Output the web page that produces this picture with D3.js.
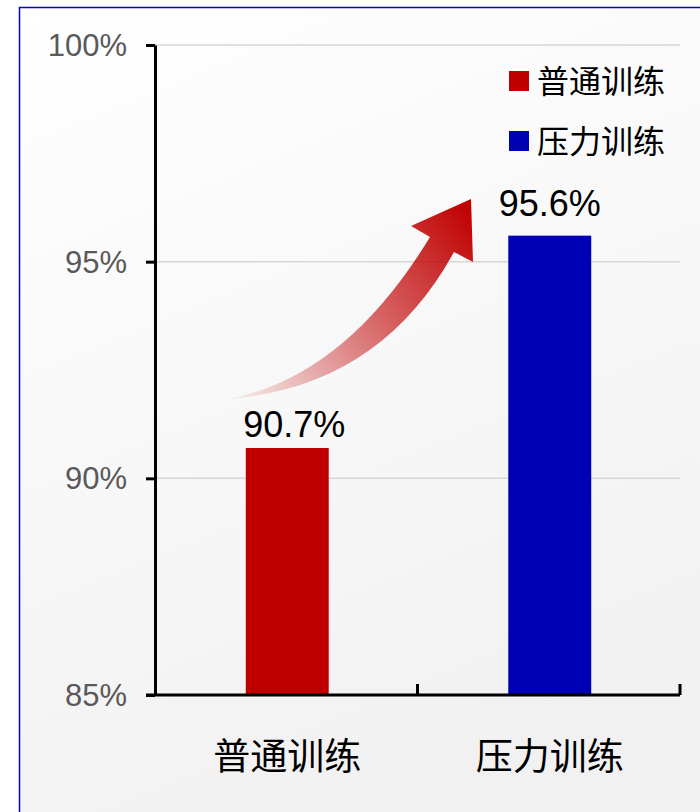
<!DOCTYPE html>
<html>
<head>
<meta charset="utf-8">
<script src="https://cdn.jsdelivr.net/npm/d3@7/dist/d3.min.js"></script>
<style>
  html, body { margin: 0; padding: 0; background: #ffffff; }
  svg { display: block; }
</style>
</head>
<body>
<svg id="chart" width="700" height="812"></svg>
<script>
// Training accuracy comparison
const categories = ["普通训练", "压力训练"];
const values = [90.7, 95.6];
const valueLabels = ["90.7%", "95.6%"];
const yTicks = [85, 90, 95, 100];
const yTickLabels = ["85%", "90%", "95%", "100%"];
const barColors = ["#C00000", "#0000B4"];

const W = 700, H = 812;
const svg = d3.select("#chart");
const defs = svg.append("defs");

// soft grey panel background
const bg = defs.append("linearGradient").attr("id", "bgGrad")
  .attr("x1", 0).attr("y1", 0).attr("x2", 0.35).attr("y2", 1);
bg.append("stop").attr("offset", 0).attr("stop-color", "#ffffff");
bg.append("stop").attr("offset", 1).attr("stop-color", "#f1f1f1");

svg.append("rect").attr("x", 19.5).attr("y", 7.5)
  .attr("width", W + 20).attr("height", H + 20)
  .attr("fill", "url(#bgGrad)")
  .attr("stroke", "#0000CC").attr("stroke-width", 1.5);

const plotLeft = 155, plotRight = 680, plotTop = 45, plotBottom = 695;

const x = d3.scaleBand().domain(categories).range([plotLeft, plotRight]).padding(0);
const y = d3.scaleLinear().domain([85, 100]).range([plotBottom, plotTop]);
const barW = x.bandwidth() * 0.316;

// horizontal gridlines
svg.append("g").selectAll("line")
  .data(yTicks.filter(t => t > 85))
  .join("line")
  .attr("x1", plotLeft).attr("x2", plotRight)
  .attr("y1", d => y(d)).attr("y2", d => y(d))
  .attr("stroke", "#d6d6d6").attr("stroke-width", 1.5);

// bars
svg.append("g").selectAll("rect")
  .data(categories)
  .join("rect")
  .attr("x", (d) => x(d) + x.bandwidth() / 2 - barW / 2 + 1)
  .attr("width", barW)
  .attr("y", (d, i) => y(values[i]))
  .attr("height", (d, i) => y(85) - y(values[i]))
  .attr("fill", (d, i) => barColors[i]);

// y axis
const yAxis = d3.axisLeft(y)
  .tickValues(yTicks)
  .tickFormat((d, i) => yTickLabels[i])
  .tickSizeInner(9).tickSizeOuter(0).tickPadding(19);
const gy = svg.append("g").attr("transform", `translate(${plotLeft},0)`).call(yAxis);
gy.select(".domain").attr("stroke", "#000").attr("stroke-width", 3);
gy.selectAll(".tick line").attr("stroke", "#000").attr("stroke-width", 3);
gy.selectAll(".tick text")
  .attr("fill", "#595959")
  .attr("font-family", "'Liberation Sans', Arial, sans-serif")
  .attr("font-size", 31)
  .attr("dy", "0.34em");

// x axis with category-boundary ticks pointing up
const xAxis = d3.axisBottom(x).tickSize(0).tickPadding(0).tickFormat("");
const gx = svg.append("g").attr("transform", `translate(0,${plotBottom})`).call(xAxis);
gx.select(".domain").attr("stroke", "#000").attr("stroke-width", 3)
  .attr("d", `M${plotLeft - 9},0H${plotRight}`);
gx.selectAll(".tick").remove();
gx.selectAll("line.sep")
  .data(categories)
  .join("line")
  .attr("class", "sep")
  .attr("x1", d => x(d) + x.bandwidth()).attr("x2", d => x(d) + x.bandwidth())
  .attr("y1", 0).attr("y2", -11)
  .attr("stroke", "#000").attr("stroke-width", 3);

// category labels
svg.append("g").selectAll("text")
  .data(categories)
  .join("text")
  .attr("x", d => x(d) + x.bandwidth() / 2 + 1)
  .attr("y", 770)
  .attr("text-anchor", "middle")
  .attr("font-family", "'Noto Sans CJK SC', sans-serif")
  .attr("font-size", 37)
  .attr("fill", "#000")
  .text(d => d);

// value labels above bars
const labelGap = [11, 20];
const labelShift = [8, 1];
svg.append("g").selectAll("text")
  .data(categories)
  .join("text")
  .attr("x", (d, i) => x(d) + x.bandwidth() / 2 + labelShift[i])
  .attr("y", (d, i) => y(values[i]) - labelGap[i])
  .attr("text-anchor", "middle")
  .attr("font-family", "'Liberation Sans', Arial, sans-serif")
  .attr("font-size", 36)
  .attr("fill", "#000")
  .text((d, i) => valueLabels[i]);

// legend
const legend = svg.append("g").selectAll("g")
  .data(categories)
  .join("g")
  .attr("transform", (d, i) => `translate(509,${71 + i * 60})`);
legend.append("rect").attr("width", 20).attr("height", 20)
  .attr("fill", (d, i) => barColors[i]);
legend.append("text")
  .attr("x", 28).attr("y", 10).attr("dy", "0.36em")
  .attr("font-family", "'Noto Sans CJK SC', sans-serif")
  .attr("font-size", 32)
  .attr("fill", "#000")
  .text(d => d);

// rising arrow from the first bar towards the second
const arrowGrad = defs.append("linearGradient").attr("id", "arrowGrad")
  .attr("gradientUnits", "userSpaceOnUse")
  .attr("x1", 228).attr("y1", 399).attr("x2", 468).attr("y2", 205);
arrowGrad.append("stop").attr("offset", 0).attr("stop-color", "#C00000").attr("stop-opacity", 0.03);
arrowGrad.append("stop").attr("offset", 0.55).attr("stop-color", "#C00000").attr("stop-opacity", 0.6);
arrowGrad.append("stop").attr("offset", 1).attr("stop-color", "#C00000").attr("stop-opacity", 1);

const ap = d3.path();
ap.moveTo(228, 399);
ap.quadraticCurveTo(345, 377, 430, 237);
ap.lineTo(411, 226);
ap.lineTo(471, 199);
ap.lineTo(473, 262);
ap.lineTo(454, 252);
ap.quadraticCurveTo(380, 387, 228, 399);
ap.closePath();
svg.append("path").attr("d", ap.toString()).attr("fill", "url(#arrowGrad)");
</script>
</body>
</html>
